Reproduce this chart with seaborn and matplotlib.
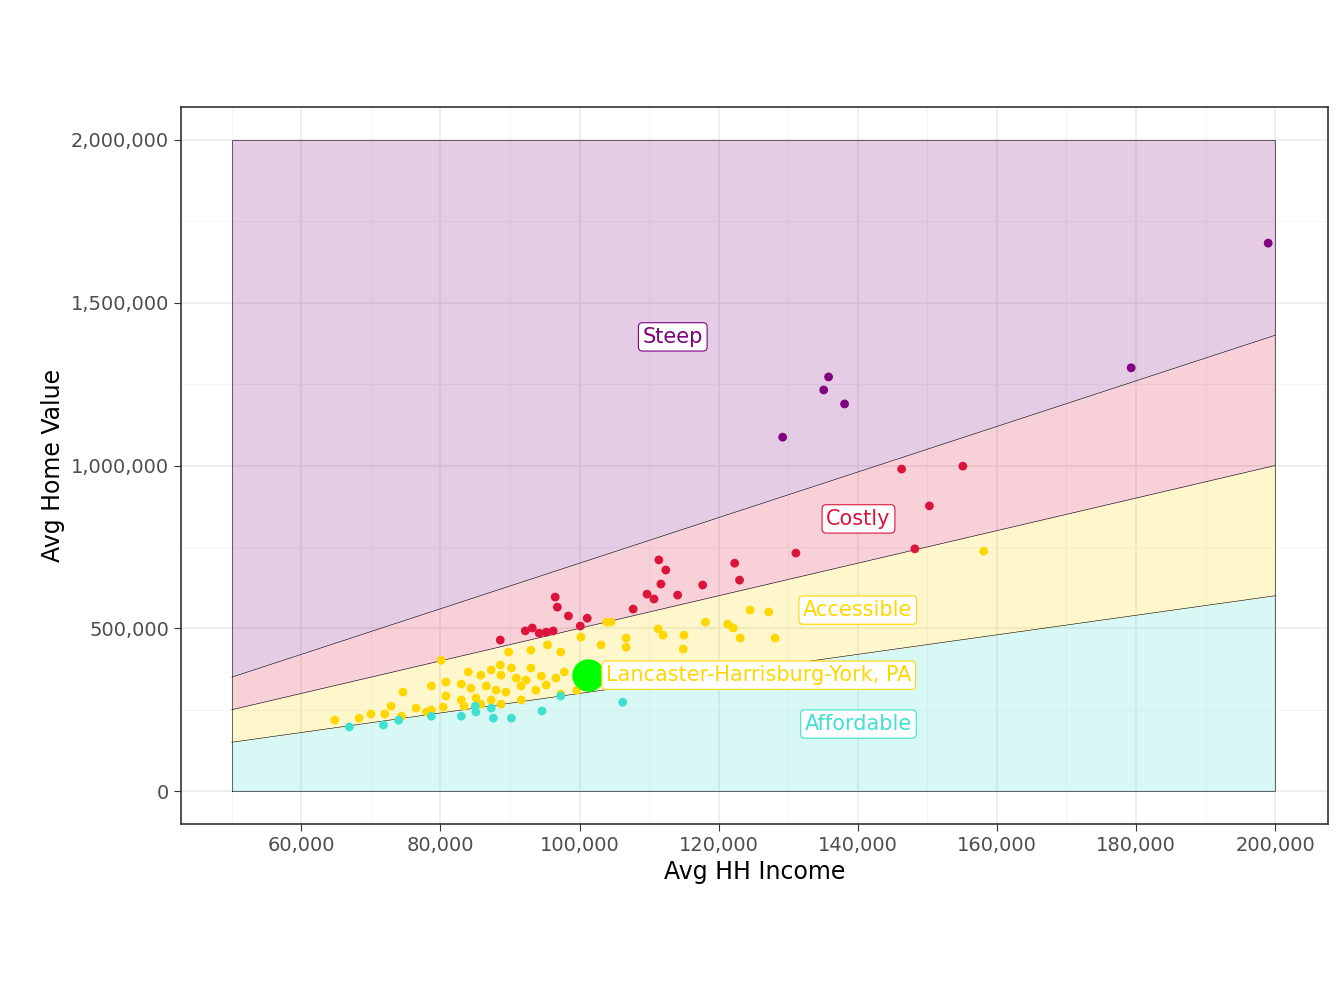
import matplotlib
matplotlib.use("Agg")
import matplotlib.pyplot as plt
import seaborn as sns
import pandas as pd
import numpy as np
from matplotlib.ticker import FuncFormatter, MultipleLocator

steep_x = [199000,179300,135800,135100,138100,129200]
steep_y = [1683000,1300000,1272000,1232000,1189000,1087000]
costly_x = [146300,155100,150300,148200,131100,111400,112400,111700,122300,123000,117700,114100,109700,110700,107700,96500,96800,98400,101100,100100,88600,92200,93200,94200,95200,96200]
costly_y = [989000,998000,876000,744000,731000,710000,679000,636000,700000,648000,633000,602000,605000,590000,559000,596000,565000,538000,531000,507000,464000,492000,501000,485000,488000,492000]
access_x = [158100,124500,127200,121300,118100,122100,123100,128100,115000,111300,112000,106700,114900,104500,103900,100200,103100,106700,
            80100,89800,93000,95400,97300,88600,90200,93000,84000,85800,87300,88700,90900,92300,94500,96600,97800,80800,83000,84400,86600,88000,89400,91600,93700,95200,97300,99600,74600,78700,80800,83000,85100,87300,88700,91600,72900,76500,78700,80400,83400,85800,70000,74400,78000,64800,68300,72000,102000]
access_y = [737000,556000,550000,513000,519000,501000,470000,470000,479000,498000,479000,470000,436000,519000,519000,473000,449000,442000,
            402000,427000,433000,449000,427000,387000,378000,378000,366000,356000,372000,356000,347000,341000,353000,347000,366000,335000,329000,316000,323000,310000,304000,323000,310000,326000,298000,310000,304000,323000,292000,280000,286000,280000,267000,280000,261000,255000,249000,258000,261000,267000,237000,230000,243000,218000,224000,237000,360000]
afford_x = [66900,71800,74000,78700,83000,85100,87300,87600,90200,94600,97300,106200,85000]
afford_y = [197000,203000,218000,230000,230000,243000,255000,224000,224000,246000,292000,273000,261000]
focus_x = [101200]
focus_y = [356000]
focus_name = "Lancaster-Harrisburg-York, PA"

band_x = [50000, 200000]
band_mult = [0, 3, 5, 7]
top_y = 2000000
cols = {"Steep": "#800080", "Costly": "#DC143C", "Accessible": "#FFD700", "Affordable": "#40E0D0"}

df = pd.DataFrame({
    "x": steep_x + costly_x + access_x + afford_x,
    "y": steep_y + costly_y + access_y + afford_y,
    "cat": ["Steep"]*len(steep_x) + ["Costly"]*len(costly_x) + ["Accessible"]*len(access_x) + ["Affordable"]*len(afford_x),
})

fig = plt.figure(figsize=(13.44, 10.08), dpi=100)
ax = fig.add_axes([181/1344, 1-824/1008, (1328-181)/1344, (824-107)/1008])

bx = np.array(band_x)
names = ["Affordable", "Accessible", "Costly", "Steep"]
lows = [bx*0, bx*3, bx*5, bx*7]
highs = [bx*3, bx*5, bx*7, np.array([top_y, top_y])]
for n, lo, hi in zip(names, lows, highs):
    ax.fill_between(bx, lo, hi, color=cols[n], alpha=0.2, lw=0, zorder=1)
for m in band_mult[1:]:
    ax.plot(bx, bx*m, color="black", lw=0.4, zorder=2)
ax.plot([bx[0], bx[1], bx[1], bx[0], bx[0]], [0, 0, top_y, top_y, 0], color="black", lw=0.4, zorder=2)

sns.scatterplot(data=df, x="x", y="y", hue="cat", palette=cols, s=40, edgecolor="none", legend=False, ax=ax, zorder=3)
ax.scatter(focus_x, focus_y, s=500, color="#00FF00", zorder=4)

def lab(x, y, t, c, ha="center"):
    ax.text(x, y, t, color=c, fontsize=15, ha=ha, va="center", zorder=5,
            bbox=dict(boxstyle="round,pad=0.2", fc="white", ec=c, lw=0.8))
lab(113400, 1395000, "Steep", cols["Steep"])
lab(140100, 836000, "Costly", cols["Costly"])
lab(140000, 556000, "Accessible", cols["Accessible"])
lab(140100, 206000, "Affordable", cols["Affordable"])
lab(103800, 356000, focus_name, cols["Accessible"], ha="left")

ax.set_xlim(42700, 207600)
ax.set_ylim(-101000, 2101000)
ax.xaxis.set_major_locator(MultipleLocator(20000))
ax.yaxis.set_major_locator(MultipleLocator(500000))
ax.xaxis.set_minor_locator(MultipleLocator(10000))
ax.yaxis.set_minor_locator(MultipleLocator(250000))
fmt = FuncFormatter(lambda v, p: f"{int(v):,}")
ax.xaxis.set_major_formatter(fmt)
ax.yaxis.set_major_formatter(fmt)
ax.grid(which="major", color="#EBEBEB", lw=1.2, zorder=0)
ax.grid(which="minor", color="#F3F3F3", lw=0.6, zorder=0)
ax.set_axisbelow(True)
ax.tick_params(which="minor", length=0)
ax.tick_params(which="major", labelsize=14, labelcolor="#4D4D4D", color="#333333", length=5)
for s in ax.spines.values():
    s.set_color("#333333"); s.set_linewidth(1.2)
ax.set_xlabel("Avg HH Income", fontsize=17)
ax.set_ylabel("Avg Home Value", fontsize=17)
fig.savefig("out.png", dpi=100)
